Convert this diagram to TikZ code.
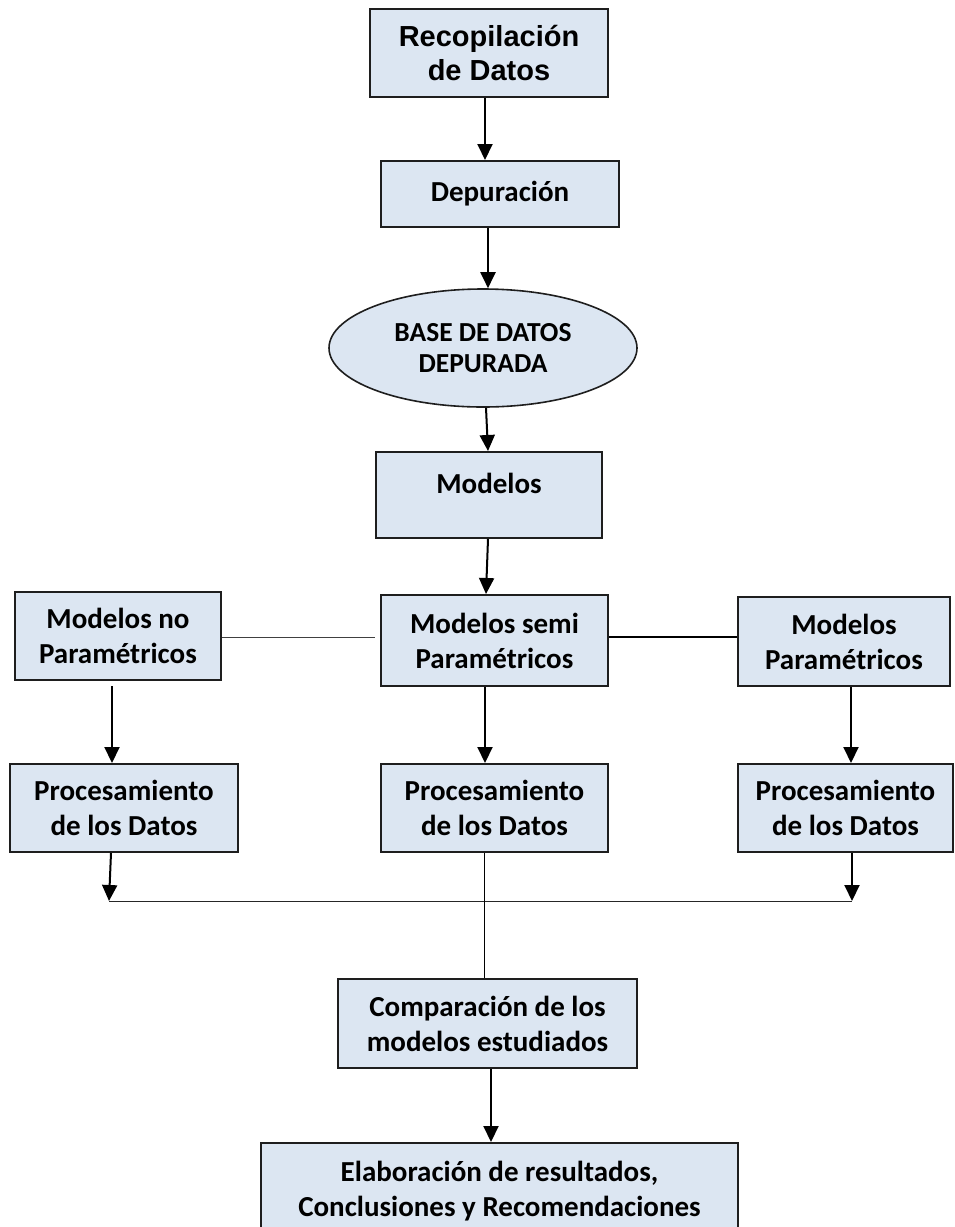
\documentclass[tikz,border=0pt]{standalone}
\usepackage{fontspec}
\setmainfont{Carlito}
\newfontfamily\arialf{Liberation Sans}
\usetikzlibrary{arrows.meta,shapes.geometric}
\definecolor{boxfill}{HTML}{DCE6F2}
\definecolor{boxline}{HTML}{1E1E1E}
\tikzset{
  stepbox/.style={draw=boxline, fill=boxfill, line width=2pt, inner sep=0pt, align=center,
    font=\bfseries\fontsize{29}{35}\selectfont},
  ovalbox/.style={draw=boxline, fill=boxfill, line width=1.6pt, ellipse, inner sep=0pt, align=center,
    font=\bfseries\fontsize{27.5}{31}\selectfont},
  arr/.style={draw=black, line width=2pt, -{Triangle[length=16pt,width=15pt]}},
  thinline/.style={draw=black!75, line width=1pt},
  midline/.style={draw=black, line width=1.5pt},
  lbl/.style={inner sep=0pt, align=center, font=\bfseries\fontsize{29}{35}\selectfont}
}
\begin{document}
\begin{tikzpicture}[x=1pt,y=-1pt]
\useasboundingbox (0,0) rectangle (955,1227);
\clip (0,0) rectangle (955,1227);

% nodes
\node[stepbox, minimum width=238pt, minimum height=88pt,
      font=\arialf\bfseries\fontsize{29}{34}\selectfont] (rec) at (489,53) {Recopilación\\de Datos};
\node[stepbox, minimum width=238pt, minimum height=66pt] (dep) at (500,194) {Depuración};
\node[ovalbox, minimum width=308pt, minimum height=118pt] (bdd) at (483,348) {BASE DE DATOS\\DEPURADA};
\node[stepbox, minimum width=226pt, minimum height=86pt] (mod) at (489,495) {};
\node[lbl] (modt) at (489,483) {Modelos};
\node[stepbox, minimum width=206pt, minimum height=88pt] (nopar) at (118,636) {Modelos no\\Paramétricos};
\node[stepbox, minimum width=227pt, minimum height=91pt] (semi) at (494.5,640.5) {Modelos semi\\Paramétricos};
\node[stepbox, minimum width=212pt, minimum height=89pt] (par) at (844,641.5) {Modelos\\Paramétricos};
\node[stepbox, minimum width=228pt, minimum height=88pt] (p1) at (124,808) {Procesamiento\\de los Datos};
\node[stepbox, minimum width=227pt, minimum height=88pt] (p2) at (494.5,808) {Procesamiento\\de los Datos};
\node[stepbox, minimum width=215pt, minimum height=88pt] (p3) at (845.5,808) {Procesamiento\\de los Datos};
\node[stepbox, minimum width=299pt, minimum height=89pt] (comp) at (487.5,1023.5) {Comparación de los\\modelos estudiados};
\node[stepbox, minimum width=477pt, minimum height=97pt] (elab) at (499.5,1191.5) {};
\node[lbl] (elabt) at (499.5,1191) {Elaboración de resultados,\\Conclusiones y Recomendaciones};

% junction coordinates
\coordinate (jl) at (109,901);
\coordinate (jr) at (852,901);

% connectors
\draw[arr] ([xshift=-4pt]rec.south) -- ([xshift=-15pt]dep.north);
\draw[arr] ([xshift=-12pt]dep.south) -- ([xshift=5pt]bdd.north);
\draw[arr] ([xshift=3pt]bdd.south) -- ([xshift=-1pt]mod.north);
\draw[arr] ([xshift=-1pt]mod.south) -- ([xshift=-8.5pt]semi.north);

\draw[thinline, shorten >=5pt] ([yshift=-1pt]nopar.east) -- ([yshift=-1pt]nopar.east -| semi.west);
\draw[midline] ([yshift=3.5pt]semi.east) -- ([yshift=4.5pt]par.west);

\draw[arr, shorten <=5pt] ([xshift=-6pt]nopar.south) -- ([xshift=-12pt]p1.north);
\draw[arr] ([xshift=-9.5pt]semi.south) -- ([xshift=-9.5pt]p2.north);
\draw[arr] ([xshift=7pt]par.south) -- ([xshift=5.5pt]p3.north);

\draw[arr] ([xshift=-13pt]p1.south) -- (jl);
\draw[arr] ([xshift=6.5pt]p3.south) -- (jr);
\draw[thinline, draw=black!85] (jl) -- (jr);
\draw[midline, line width=1.3pt] ([xshift=-10pt]p2.south) -- ([xshift=-3pt]comp.north);

\draw[arr] ([xshift=3.5pt]comp.south) -- ([xshift=-8.5pt]elab.north);
\end{tikzpicture}
\end{document}
